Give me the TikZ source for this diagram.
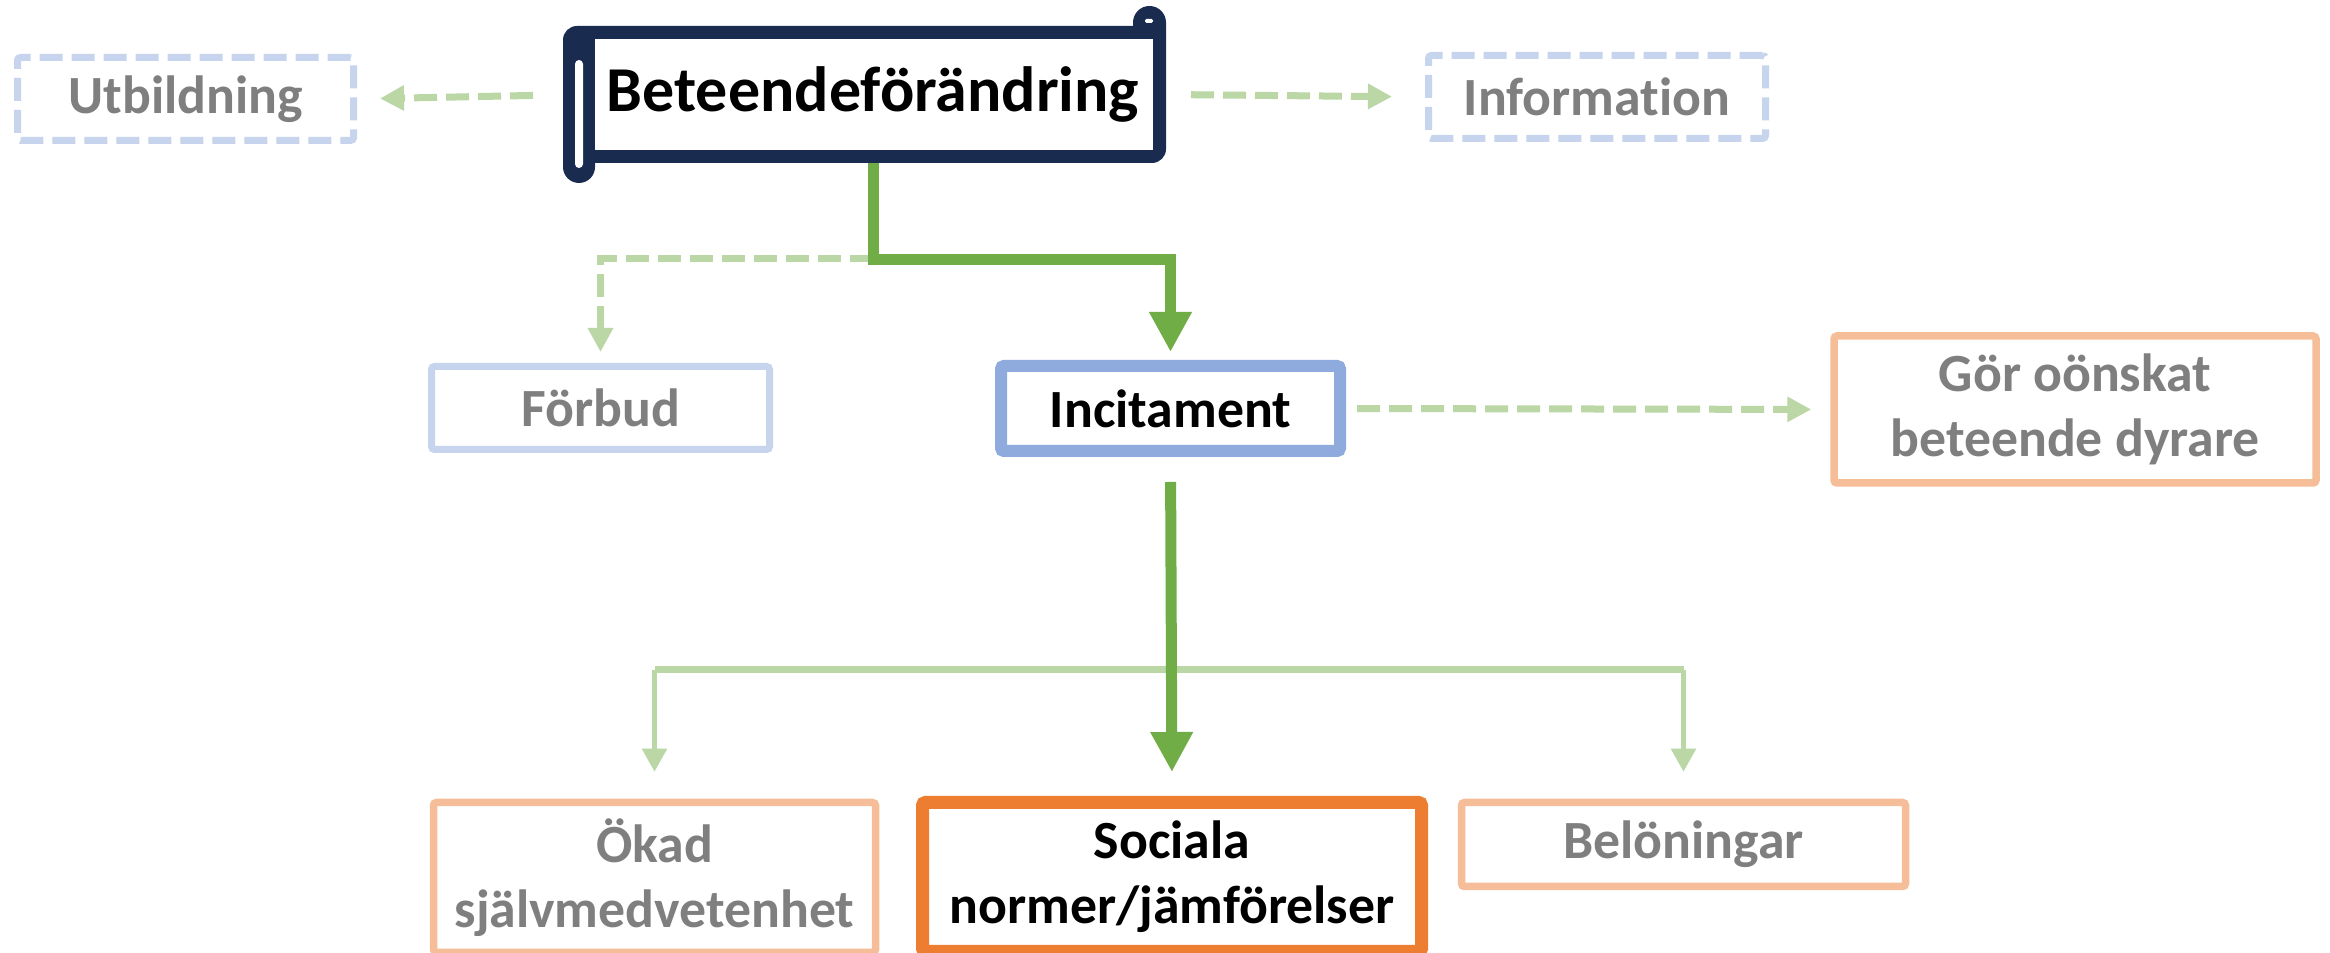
\documentclass[tikz,border=0pt]{standalone}
\usepackage{fontspec}
\setmainfont{Carlito}[Ligatures=NoCommon]
\usetikzlibrary{arrows.meta}
\definecolor{navy}{RGB}{25,44,80}
\definecolor{lblue}{RGB}{199,212,237}
\definecolor{mblue}{RGB}{143,170,220}
\definecolor{lgreen}{RGB}{186,215,165}
\definecolor{dgreen}{RGB}{112,173,71}
\definecolor{lorange}{RGB}{246,190,152}
\definecolor{dorange}{RGB}{237,125,49}
\definecolor{gtext}{RGB}{127,127,127}
\begin{document}
\begin{tikzpicture}[x=0.1mm,y=-0.1mm,
  box/.style={draw, fill=white, rounded corners=0.3mm, align=center, inner sep=0pt,
    font=\fontsize{15.3}{18.5}\selectfont\bfseries, text=gtext},
  lbbox/.style={box, draw=lblue, line width=0.7mm},
  lbdash/.style={lbbox, dash pattern=on 2.3mm off 0.9mm},
  lobox/.style={box, draw=lorange, line width=0.75mm},
  thickarr/.style={draw=dgreen, line width=1.1mm, -{Triangle[length=4mm,width=4mm]}},
  ldash/.style={draw=lgreen, line width=0.7mm, dash pattern=on 2.3mm off 0.9mm, -{Triangle[length=2.4mm,width=2.4mm]}},
  lbranch/.style={draw=lgreen, line width=0.7mm},
  lthin/.style={draw=lgreen, line width=0.5mm, -{Triangle[length=2.3mm,width=2.4mm]}}
]
\useasboundingbox (0,0) rectangle (2330,953);
\fill[white] (0,0) rectangle (2330,953);

% scroll shape
\fill[navy, rounded corners=1.4mm] (563,26) rectangle (1166,163);
\fill[navy] (563,40) -- (563,167) arc[start angle=180,end angle=360,radius=1.6mm] -- (595,40) -- cycle;
\fill[navy] (1133,40) -- (1133,22.5) arc[start angle=180,end angle=0,radius=1.65mm] -- (1166,40) -- cycle;
\fill[white] (595,39) rectangle (1153,150);
\fill[white, rounded corners=0.4mm] (575,60) rectangle (583,168);
\fill[white, rounded corners=0.15mm] (1145,19) rectangle (1153,23);
\node[inner sep=0pt, outer sep=0pt, minimum width=58.6mm, minimum height=13.7mm,
  font=\fontsize{18.2}{22}\selectfont\bfseries] (beh) at (873,94.5) {Beteendeförändring};

% boxes
\node[lbdash, minimum width=33.6mm, minimum height=8.3mm] (utb) at (185.5,99) {Utbildning};
\node[lbdash, minimum width=33.7mm, minimum height=8.3mm] (inf) at (1597,97) {Information};
\node[lbbox, minimum width=33.8mm, minimum height=8.3mm] (forb) at (600.5,408) {Förbud};
\node[box, draw=mblue, line width=1.2mm, text=black, minimum width=33.9mm, minimum height=8.5mm] (inc) at (1170.5,408.5) {Incitament};
\node[lobox, minimum width=48.2mm, minimum height=14.7mm] (gor) at (2075,409.5) {Gör oönskat\\beteende dyrare};
\node[lobox, minimum width=44.2mm, minimum height=15mm] (okad) at (654.5,877.5) {Ökad\\självmedvetenhet};
\node[box, draw=dorange, line width=1.3mm, text=black, minimum width=49.9mm, minimum height=14.9mm] (soc) at (1172,877) {Sociala\\normer/jämförelser};
\node[lobox, minimum width=44.4mm, minimum height=8.4mm] (bel) at (1683.5,844.5) {Belöningar};

% connectors
\draw[ldash, shorten <=4.7mm, shorten >=2.3mm] (beh.west) -- (utb.east);
\draw[ldash, shorten <=2.5mm, shorten >=3.3mm] (beh.east) -- (inf.west);
\draw[ldash, shorten >=1.1mm] ([yshift=-9.6mm]beh.south) -| (forb.north);
\draw[thickarr, shorten >=0.8mm] (beh.south) -- ++(0,97) -| (inc.north);
\draw[ldash, shorten <=1.1mm, shorten >=1.9mm] (inc.east) -- (gor.west);

\coordinate (br) at (1172,670);
\draw[lbranch] (okad.north |- br) -- (bel.north |- br);
\draw[lthin, shorten >=2.7mm] (okad.north |- br) -- (okad.north);
\draw[lthin, shorten >=2.7mm] (bel.north |- br) -- (bel.north);
\draw[thickarr, shorten <=2.5mm, shorten >=2.4mm] (inc.south) -- (soc.north);
\end{tikzpicture}
\end{document}
